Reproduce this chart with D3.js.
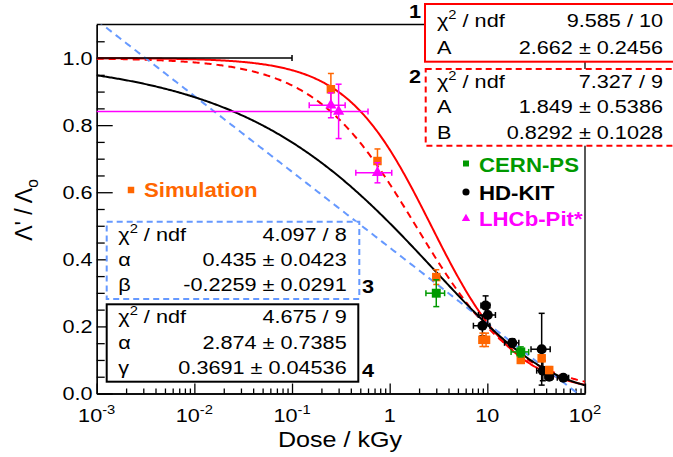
<!DOCTYPE html>
<html>
<head>
<meta charset="utf-8">
<script src="https://cdn.jsdelivr.net/npm/d3@7"></script>
<style>
body { margin: 0; background: #fff; }
svg { display: block; }
</style>
</head>
<body>
<div class="canvas"></div>
<script>

// DATA  [dose (kGy), ratio, dose error, ratio error]

var simulation = [
	[0.25, 0.907, 0, 0.047],
	[0.75, 0.693, 0, 0.036],
	[3.0, 0.347, 0, 0.022],
	[8.9, 0.160, 0, 0.02],
	[9.7, 0.160, 0, 0.02],
	[22, 0.100, 0, 0.01],
	[36, 0.105, 0, 0.01],
	[43, 0.070, 0, 0.01]
];

var cernPS = [
	[3.0, 0.299, 0.65, 0.04],
	[22, 0.124, 4.5, 0.015]
];

var hdKIT = [
	[0, 1.0, 0.1, 0],
	[9.6, 0.262, 1.0, 0.029],
	[10.1, 0.234, 2.0, 0.03],
	[8.9, 0.202, 1.7, 0.03],
	[18, 0.151, 3, 0.012],
	[36, 0.132, 8, 0.107],
	[37, 0.068, 5, 0.03],
	[43, 0.050, 4, 0.01],
	[60, 0.047, 8, 0.005]
];

var lhcbPit = [
	[0.25, 0.859, 0.1, 0.037],
	[0.3, 0.841, 0.3, 0.081],
	[0.75, 0.658, 0.3, 0.03]
];

// fit parameters (from the stat boxes)
var fit1Params = {A: 2.662};
var fit2Params = {A: 1.849, B: 0.8292};
var fit3Params = {alpha: 0.435, beta: -0.2259};
var fit4Params = {alpha: 2.874, gamma: 0.3691};

var stats1 = [["chi2", "9.585 / 10"], ["A", "2.662 \u00b1 0.2456"]];
var stats2 = [["chi2", "7.327 / 9"], ["A", "1.849 \u00b1 0.5386"], ["B", "0.8292 \u00b1 0.1028"]];
var stats3 = [["chi2", "4.097 / 8"], ["\u03b1", "0.435 \u00b1 0.0423"], ["\u03b2", "-0.2259 \u00b1 0.0291"]];
var stats4 = [["chi2", "4.675 / 9"], ["\u03b1", "2.874 \u00b1 0.7385"], ["\u03b3", "0.3691 \u00b1 0.04536"]];

var doseTicks = [1e-3, 1e-2, 1e-1, 1, 10, 100];
var doseTickLabels = [["10", "-3"], ["10", "-2"], ["10", "-1"], ["1", ""], ["10", ""], ["10", "2"]];
var ratioTicks = [0, 0.2, 0.4, 0.6, 0.8, 1.0];
var ratioTickLabels = ["0.0", "0.2", "0.4", "0.6", "0.8", "1.0"];


var W = 673, H = 457, SX = 1.14;
var FONT = "'Liberation Sans', Arial, Helvetica, sans-serif";
var ORANGE = "#ff6600", GREEN = "#009900", MAGENTA = "#ff00ff", BLUE = "#6699ff", RED = "#ff0000";

var svg = d3.select(".canvas")
			.append("svg")
			.attr("width", W)
			.attr("height", H);

svg.append("rect").attr("width", W).attr("height", H).attr("fill", "#fff");

var x = d3.scaleLog().domain([1e-3, 1e2]).range([96.7, 585]);
var y = d3.scaleLinear().domain([0, 1.1]).range([393.5, 24.5]);

var X0 = x.range()[0], X1 = x.range()[1], Y0 = y.range()[0], Y1 = y.range()[1];

svg.append("defs").append("clipPath")
   .attr("id", "plotClip")
   .append("rect")
   .attr("x", X0).attr("y", Y1)
   .attr("width", X1 - X0).attr("height", Y0 - Y1);


// helpers

function stretchText(px, py, anchor, size, weight, color) {
	var g = svg.append("g").attr("transform", "translate(" + px + "," + py + ") scale(" + SX + ",1)");
	return g.append("text")
			.attr("text-anchor", anchor)
			.attr("font-family", FONT)
			.attr("font-size", size)
			.attr("font-weight", weight || "normal")
			.attr("fill", color || "#000");
}

function richText(sel, parts, size) {
	var shift = 0;
	parts.forEach(function(p){
		var target = p.sup ? -0.42 * size : (p.sub ? 0.28 * size : 0);
		sel.append("tspan")
		   .attr("dy", target - shift)
		   .attr("font-size", (p.sup || p.sub) ? size * 0.68 : size)
		   .text(p.t);
		shift = target;
	});
}


// AXES

var xMinor = [];
d3.range(-3, 2).forEach(function(e){
	d3.range(2, 10).forEach(function(k){ xMinor.push(k * Math.pow(10, e)); });
});
var yMinor = d3.range(0, 22).map(function(i){ return i * 0.05; })
			   .filter(function(v){ return Math.abs(v * 5 - Math.round(v * 5)) > 1e-6; });

function styleAxis(g) {
	g.selectAll("path, line").attr("stroke", "#000").attr("stroke-width", 1.3);
}

svg.append("g").attr("transform", "translate(0," + Y0 + ")")
   .call(d3.axisBottom(x).tickValues(xMinor).tickSizeInner(-5).tickSizeOuter(0).tickFormat(""))
   .call(styleAxis);
svg.append("g").attr("transform", "translate(0," + Y0 + ")")
   .call(d3.axisBottom(x).tickValues(doseTicks).tickSizeInner(-10).tickSizeOuter(0).tickFormat(""))
   .call(styleAxis);
svg.append("g").attr("transform", "translate(" + X0 + ",0)")
   .call(d3.axisLeft(y).tickValues(yMinor).tickSizeInner(-8).tickSizeOuter(0).tickFormat(""))
   .call(styleAxis);
svg.append("g").attr("transform", "translate(" + X0 + ",0)")
   .call(d3.axisLeft(y).tickValues(ratioTicks).tickSizeInner(-16).tickSizeOuter(0).tickFormat(""))
   .call(styleAxis);

svg.append("path")
   .attr("d", "M" + X0 + "," + Y1 + "H" + X1 + "V" + Y0)
   .attr("fill", "none")
   .attr("stroke", "#000")
   .attr("stroke-width", 1.3);

doseTicks.forEach(function(t, i){
	var lab = doseTickLabels[i];
	var parts = [{t: lab[0]}];
	if (lab[1]) parts.push({t: lab[1], sup: true});
	richText(stretchText(x(t), 421.5, "middle", 19), parts, 19);
});

ratioTicks.forEach(function(t, i){
	stretchText(92.5, y(t) + 6.8, "end", 19).text(ratioTickLabels[i]);
});

stretchText(340, 446.5, "middle", 22).text("Dose / kGy");

var yTitle = svg.append("text")
				.attr("transform", "translate(32,210) rotate(-90)")
				.attr("text-anchor", "middle")
				.attr("font-family", FONT)
				.attr("font-size", 23);
richText(yTitle, [{t: "\u039b' / \u039b"}, {t: "o", sub: true}], 23);


// FIT CURVES

var grid = d3.range(0, 401).map(function(i){ return Math.pow(10, -3 + 5 * i / 400); });

var fits = [
	{color: RED, dash: null, f: function(d){ return 1 / (1 + d / fit1Params.A); }},
	{color: RED, dash: "7,5", f: function(d){ return 1 / (1 + Math.pow(d / fit2Params.A, fit2Params.B)); }},
	{color: BLUE, dash: "7,5", f: function(d){ return fit3Params.alpha + fit3Params.beta * Math.log10(d); }},
	{color: "#000", dash: null, f: function(d){ return Math.exp(-Math.pow(d / fit4Params.alpha, fit4Params.gamma)); }}
];

var line = d3.line().x(function(p){ return x(p[0]); }).y(function(p){ return y(p[1]); });

var curveLayer = svg.append("g").attr("clip-path", "url(#plotClip)");
fits.forEach(function(fit){
	curveLayer.append("path")
	   .attr("d", line(grid.map(function(d){ return [d, fit.f(d)]; })))
	   .attr("fill", "none")
	   .attr("stroke", fit.color)
	   .attr("stroke-width", 2)
	   .attr("stroke-dasharray", fit.dash);
});


// DATA POINTS

var CAP = 3;

function drawSeries(data, color, symbol, size) {
	var g = svg.append("g");
	data.forEach(function(p){
		var d = p[0], v = p[1], dx = p[2], dv = p[3];
		var cy = y(v);
		if (dx > 0) {
			var lo = d - dx, hi = Math.min(d + dx, 100);
			var xl = lo > 1e-3 ? x(lo) : X0;
			var xr = x(hi);
			g.append("line").attr("x1", xl).attr("x2", xr).attr("y1", cy).attr("y2", cy)
			 .attr("stroke", color).attr("stroke-width", 1.5);
			if (lo > 1e-3) g.append("line").attr("x1", xl).attr("x2", xl).attr("y1", cy - CAP).attr("y2", cy + CAP)
			 .attr("stroke", color).attr("stroke-width", 1.5);
			g.append("line").attr("x1", xr).attr("x2", xr).attr("y1", cy - CAP).attr("y2", cy + CAP)
			 .attr("stroke", color).attr("stroke-width", 1.5);
		}
		if (dv > 0 && d > 0) {
			var cx = x(d);
			var yt = y(v + dv), yb = y(Math.max(v - dv, 0));
			g.append("line").attr("x1", cx).attr("x2", cx).attr("y1", yt).attr("y2", yb)
			 .attr("stroke", color).attr("stroke-width", 1.5);
			[yt, yb].forEach(function(yy){
				g.append("line").attr("x1", cx - CAP).attr("x2", cx + CAP).attr("y1", yy).attr("y2", yy)
				 .attr("stroke", color).attr("stroke-width", 1.5);
			});
		}
		if (d > 0) {
			g.append("path")
			 .attr("transform", "translate(" + x(d) + "," + cy + ")")
			 .attr("d", d3.symbol().type(symbol).size(size)())
			 .attr("fill", color);
		}
	});
}

drawSeries(hdKIT, "#000", d3.symbolCircle, 80);
drawSeries(simulation, ORANGE, d3.symbolSquare, 72);
drawSeries(cernPS, GREEN, d3.symbolSquare, 80);
drawSeries(lhcbPit, MAGENTA, d3.symbolTriangle, 55);


// STAT BOXES

function statBox(rows, bx, by, bw, bh, color, dash, labelX, valueX, baselines) {
	svg.append("rect")
	   .attr("x", bx).attr("y", by).attr("width", bw).attr("height", bh)
	   .attr("fill", "#fff")
	   .attr("stroke", color)
	   .attr("stroke-width", 2)
	   .attr("stroke-dasharray", dash);
	rows.forEach(function(r, i){
		var t = stretchText(labelX, baselines[i], "start", 19);
		if (r[0] == "chi2") richText(t, [{t: "\u03c7"}, {t: "2", sup: true}, {t: " / ndf"}], 19);
		else t.text(r[0]);
		stretchText(valueX, baselines[i], "end", 19).text(r[1]);
	});
}

statBox(stats1, 425, 4, 260, 57.7, RED, null, 437, 663, [26.5, 54]);
statBox(stats2, 425.7, 69, 260, 76.7, RED, "6,4", 437, 663, [87.5, 113, 138.5]);
statBox(stats3, 106.7, 221.7, 252.6, 77.3, BLUE, "6,4", 118.3, 346.7, [240.7, 265.5, 291]);
statBox(stats4, 106.7, 304.3, 251.6, 77.4, "#000", null, 118.3, 346.7, [323, 348.5, 374]);

stretchText(415, 18, "middle", 19, "bold").text("1");
stretchText(415, 83, "middle", 19, "bold").text("2");
stretchText(368, 293, "middle", 19, "bold").text("3");
stretchText(368, 377, "middle", 19, "bold").text("4");


// LEGENDS

var legendEntries = [
	{name: "Simulation", color: ORANGE, symbol: d3.symbolSquare, size: 42, mx: 131, my: 190, ty: 196.5},
	{name: "CERN-PS", color: GREEN, symbol: d3.symbolSquare, size: 36, mx: 466, my: 163.5, ty: 171.5},
	{name: "HD-KIT", color: "#000", symbol: d3.symbolCircle, size: 40, mx: 466, my: 192, ty: 199.5},
	{name: "LHCb-Pit*", color: MAGENTA, symbol: d3.symbolTriangle, size: 30, mx: 466, my: 218.5, ty: 226}
];

legendEntries.forEach(function(e){
	svg.append("path")
	   .attr("transform", "translate(" + e.mx + "," + e.my + ")")
	   .attr("d", d3.symbol().type(e.symbol).size(e.size)())
	   .attr("fill", e.color);
	stretchText(e.mx + 13, e.ty, "start", 19.5, "bold", e.color).text(e.name);
});

</script>
</body>
</html>
